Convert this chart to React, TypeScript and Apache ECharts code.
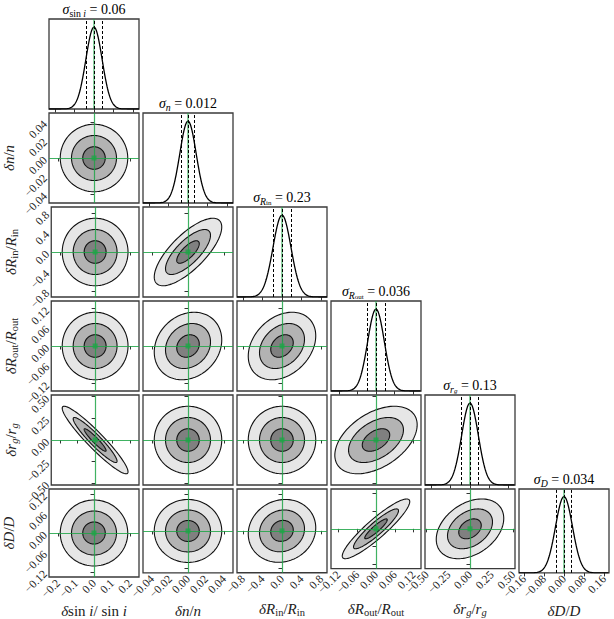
import React, { useEffect, useRef } from "react";
import * as echarts from "echarts";

// ---- data ----
const paramNames = ["sini", "n", "Rin", "Rout", "rg", "D"];
const sigmas = [0.0625, 0.0125, 0.23, 0.036, 0.13, 0.034];
const sigmaLabels = ["0.06", "0.012", "0.23", "0.036", "0.13", "0.034"];
const axisHalfRange = [0.25, 0.05, 0.92, 0.144, 0.52, 0.136];
const diagHalfRange = [0.346, 0.069, 1.15, 0.195, 0.7, 0.18];
const tickValues = [
  [-0.2, -0.1, 0, 0.1, 0.2],
  [-0.04, -0.02, 0, 0.02, 0.04],
  [-0.8, -0.4, 0, 0.4, 0.8],
  [-0.12, -0.06, 0, 0.06, 0.12],
  [-0.5, -0.25, 0, 0.25, 0.5],
  [-0.12, -0.06, 0, 0.06, 0.12],
];
const tickLabels = [
  ["\u22120.2", "\u22120.1", "0.0", "0.1", "0.2"],
  ["\u22120.04", "\u22120.02", "0.00", "0.02", "0.04"],
  ["\u22120.8", "\u22120.4", "0.0", "0.4", "0.8"],
  ["\u22120.12", "\u22120.06", "0.00", "0.06", "0.12"],
  ["\u22120.50", "\u22120.25", "0.00", "0.25", "0.50"],
  ["\u22120.12", "\u22120.06", "0.00", "0.06", "0.12"],
];
const diagTicks = [
  [-0.3, -0.15, 0, 0.15, 0.3],
  [-0.06, -0.03, 0, 0.03, 0.06],
  [-1, -0.5, 0, 0.5, 1],
  [-0.16, -0.08, 0, 0.08, 0.16],
  [-0.6, -0.3, 0, 0.3, 0.6],
  [-0.16, -0.08, 0, 0.08, 0.16],
];
const lastDiagTickLabels = ["\u22120.16", "\u22120.08", "0.00", "0.08", "0.16"];
// [row, col, correlation, horizontal spread factor seen in the panel]
const correlations: [number, number, number, number][] = [
  [1, 0, 0, 1],
  [2, 0, 0, 1],
  [2, 1, 0.74, 1],
  [3, 0, 0, 1],
  [3, 1, 0.18, 1],
  [3, 2, 0.3, 1],
  [4, 0, -0.94, 1],
  [4, 1, 0, 1],
  [4, 2, 0, 1],
  [4, 3, 0.45, 1.22],
  [5, 0, 0, 1],
  [5, 1, 0, 1],
  [5, 2, 0.1, 1],
  [5, 3, 0.91, 1],
  [5, 4, 0.35, 1],
];
const contourLevels = [3, 2, 1];

// ---- styles ----
const SERIF = "Liberation Serif";
const GREEN = "#1ea447";
const TEXT = "#222";
const contourColors = ["#e6e6e6", "#b3b3b3", "#808080"];
const L0 = 49;
const T0 = 19;
const STEP = 94;
const SIZE = 90;

const axisNameTexts = [
  "{i|\u03b4}{r|sin }{i|i}{r|/ sin }{i|i}",
  "{i|\u03b4n}{r|/}{i|n}",
  "{i|\u03b4R}{s|in}{r|/}{i|R}{s|in}",
  "{i|\u03b4R}{s|out}{r|/}{i|R}{s|out}",
  "{i|\u03b4r}{si|g}{r|/}{i|r}{si|g}",
  "{i|\u03b4D}{r|/}{i|D}",
];
const titleSubs = [
  "{s|sin }{si|i}",
  "{si|n}",
  "{si|R}{ss|in}",
  "{si|R}{ss|out}",
  "{si|r}{ssi|g}",
  "{si|D}",
];

function richStyles(size: number) {
  const base = { fontFamily: SERIF, color: TEXT, fontWeight: "normal" };
  const sub = size * 0.7;
  const ssub = size * 0.5;
  return {
    r: { ...base, fontSize: size, lineHeight: size + 2, verticalAlign: "top" },
    i: { ...base, fontSize: size, lineHeight: size + 2, verticalAlign: "top", fontStyle: "italic" },
    s: { ...base, fontSize: sub, lineHeight: sub, padding: [size * 0.55, 0, 0, 0], verticalAlign: "bottom" },
    si: { ...base, fontSize: sub, lineHeight: sub, padding: [size * 0.55, 0, 0, 0], verticalAlign: "bottom", fontStyle: "italic" },
    ss: { ...base, fontSize: ssub, lineHeight: ssub, padding: [size * 0.85, 0, 0, 0], verticalAlign: "bottom" },
    ssi: { ...base, fontSize: ssub, lineHeight: ssub, padding: [size * 0.85, 0, 0, 0], verticalAlign: "bottom", fontStyle: "italic" },
  };
}

function labelFor(values: number[], labels: string[]) {
  return (v: number) => {
    const k = values.findIndex((t) => Math.abs(t - v) < 1e-9);
    return k >= 0 ? labels[k] : "";
  };
}

function buildOption() {
  const grids: any[] = [];
  const xAxes: any[] = [];
  const yAxes: any[] = [];
  const series: any[] = [];
  const graphics: any[] = [];
  const tickStyle = { show: true, length: 3.5, inside: false, lineStyle: { color: "#333", width: 1 } };
  const labelStyle = { fontFamily: SERIF, fontSize: 11.5, color: TEXT, rotate: 45, margin: 4 };

  let g = 0;
  for (let i = 0; i < 6; i++) {
    for (let j = 0; j <= i; j++) {
      const isDiag = i === j;
      grids.push({
        left: L0 + STEP * j,
        top: T0 + STEP * i,
        width: SIZE,
        height: SIZE,
        show: true,
        borderColor: "#3a3a3a",
        borderWidth: 1.3,
        backgroundColor: "rgba(0,0,0,0)",
      });
      const xr = isDiag ? diagHalfRange[j] : axisHalfRange[j];
      const xt = isDiag ? diagTicks[j] : tickValues[j];
      const xl = isDiag ? lastDiagTickLabels : tickLabels[j];
      const bottom = i === 5;
      xAxes.push({
        gridIndex: g,
        type: "value",
        min: -xr,
        max: xr,
        axisLine: { show: false },
        splitLine: { show: false },
        axisTick: { ...tickStyle, customValues: xt },
        axisLabel: {
          ...labelStyle,
          show: bottom,
          customValues: xt,
          formatter: labelFor(xt, xl),
        },
        name: bottom ? axisNameTexts[j] : "",
        nameLocation: "middle",
        nameGap: 24,
        nameTextStyle: { fontFamily: SERIF, fontSize: 15, rich: richStyles(15) },
      });
      if (isDiag) {
        yAxes.push({
          gridIndex: g,
          type: "value",
          min: 0,
          max: 1.1,
          axisLine: { show: false },
          splitLine: { show: false },
          axisTick: { show: false },
          axisLabel: { show: false },
        });
        const s = sigmas[i];
        const pts: number[][] = [];
        const N = 200;
        for (let k = 0; k <= N; k++) {
          const x = -xr + (2 * xr * k) / N;
          pts.push([x, Math.exp((-x * x) / (2 * s * s))]);
        }
        series.push({
          type: "line",
          xAxisIndex: g,
          yAxisIndex: g,
          data: pts,
          showSymbol: false,
          silent: true,
          lineStyle: { color: "#000", width: 1.3 },
          z: 3,
          markLine: {
            symbol: ["none", "none"],
            silent: true,
            label: { show: false },
            lineStyle: { color: "#000", type: [3, 2], width: 1 },
            data: [{ xAxis: -s }, { xAxis: s }, { xAxis: 0 }],
          },
        });
        series.push({
          type: "line",
          xAxisIndex: g,
          yAxisIndex: g,
          data: [
            [0, 0],
            [0, 1.1],
          ],
          showSymbol: false,
          silent: true,
          lineStyle: { color: GREEN, width: 1.2, opacity: 0.85 },
          z: 4,
        });
        graphics.push({
          type: "text",
          x: L0 + STEP * i + SIZE / 2,
          y: T0 + STEP * i - 1,
          style: {
            text: "{i|\u03c3}" + titleSubs[i] + "{r| = " + sigmaLabels[i] + "}",
            rich: richStyles(14),
            fontFamily: SERIF,
            fontWeight: "normal",
            align: "center",
            verticalAlign: "bottom",
          },
        });
      } else {
        const yr = axisHalfRange[i];
        const left = j === 0;
        yAxes.push({
          gridIndex: g,
          type: "value",
          min: -yr,
          max: yr,
          axisLine: { show: false },
          splitLine: { show: false },
          axisTick: { ...tickStyle, customValues: tickValues[i] },
          axisLabel: {
            ...labelStyle,
            show: left,
            customValues: tickValues[i],
            formatter: labelFor(tickValues[i], tickLabels[i]),
          },
          name: left ? axisNameTexts[i] : "",
          nameLocation: "middle",
          nameGap: 31,
          nameTextStyle: { fontFamily: SERIF, fontSize: 15, rich: richStyles(15) },
        });
        const corr = correlations.find((c) => c[0] === i && c[1] === j);
        const rho = corr ? corr[2] : 0;
        const spread = corr ? corr[3] : 1;
        const sx = sigmas[j] * spread;
        const sy = sigmas[i];
        series.push({
          type: "custom",
          xAxisIndex: g,
          yAxisIndex: g,
          silent: true,
          data: contourLevels.map((k) => [k]),
          z: 2,
          renderItem: (params: any, api: any) => {
            const k = api.value(0);
            const poly: number[][] = [];
            const M = 120;
            const q = Math.sqrt(Math.max(0, 1 - rho * rho));
            for (let m = 0; m <= M; m++) {
              const t = (2 * Math.PI * m) / M;
              const x = k * sx * Math.cos(t);
              const y = k * sy * (rho * Math.cos(t) + q * Math.sin(t));
              poly.push(api.coord([x, y]));
            }
            return {
              type: "polygon",
              shape: { points: poly },
              style: { fill: contourColors[params.dataIndex], stroke: "#111", lineWidth: 1.1 },
            };
          },
        });
        series.push({
          type: "scatter",
          xAxisIndex: g,
          yAxisIndex: g,
          data: [[0, 0]],
          symbol: "rect",
          symbolSize: 5,
          silent: true,
          itemStyle: { color: GREEN },
          z: 5,
          markLine: {
            symbol: ["none", "none"],
            silent: true,
            label: { show: false },
            lineStyle: { color: GREEN, width: 1.2, type: "solid", opacity: 0.85 },
            data: [{ xAxis: 0 }, { yAxis: 0 }],
          },
        });
      }
      g++;
    }
  }
  return {
    animation: false,
    backgroundColor: "#fff",
    textStyle: { fontFamily: SERIF },
    grid: grids,
    xAxis: xAxes,
    yAxis: yAxes,
    series,
    graphic: graphics,
  };
}

export default function App() {
  const ref = useRef<HTMLDivElement>(null);
  useEffect(() => {
    document.body.style.margin = "0";
    const chart = echarts.init(ref.current as HTMLDivElement, null, { renderer: "svg" });
    chart.setOption(buildOption() as any);
    return () => chart.dispose();
  }, []);
  return <div ref={ref} style={{ width: 614, height: 619 }} />;
}
